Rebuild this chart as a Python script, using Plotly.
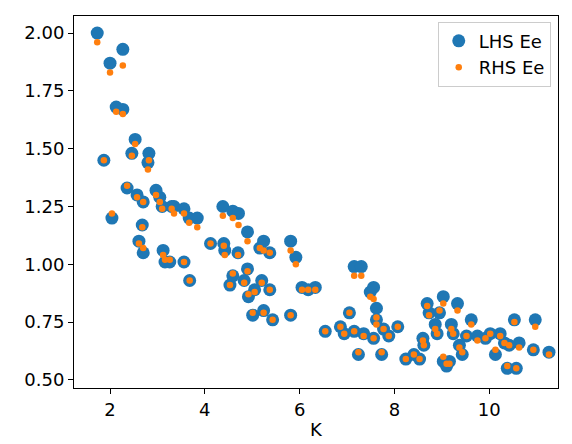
import plotly.graph_objects as go

K = [1.73,2.0,2.27,2.13,2.27,1.87,2.04,2.36,2.46,2.53,2.57,2.7,2.82,2.8,2.68,2.61,2.7,2.97,3.05,3.1,3.3,3.35,3.56,3.67,3.84,3.12,3.16,3.26,3.56,3.68,
     4.12,4.38,4.4,4.42,4.59,4.71,4.53,4.59,4.7,4.83,4.9,4.9,4.92,5.05,5.01,5.16,5.24,5.2,5.24,5.37,5.37,5.43,5.81,5.92,5.81,6.05,6.18,6.33,6.54,6.86,
     6.94,7.05,7.15,7.3,7.15,7.24,7.35,7.49,7.56,7.62,7.62,7.56,7.73,7.77,7.88,8.07,8.24,8.41,8.53,8.6,8.62,8.69,8.73,8.86,8.9,8.95,9.03,9.03,9.1,9.16,
     9.2,9.24,9.33,9.37,9.43,9.52,9.62,9.75,9.92,10.02,10.13,10.23,10.32,10.38,10.42,10.53,10.57,10.63,10.93,10.97,11.26]
LHS = [2.00,1.87,1.93,1.68,1.67,1.45,1.20,1.33,1.48,1.54,1.30,1.27,1.48,1.44,1.17,1.10,1.05,1.32,1.29,1.25,1.25,1.25,1.24,1.20,1.20,1.06,1.01,1.01,1.01,0.93,
       1.09,1.25,1.09,1.06,1.23,1.22,0.91,0.95,1.05,0.93,0.98,1.14,0.86,0.89,0.78,1.07,1.10,0.93,0.80,1.05,0.89,0.76,1.10,1.03,0.78,0.90,0.89,0.90,0.71,0.73,
       0.70,0.79,0.99,0.99,0.71,0.61,0.70,0.88,0.90,0.81,0.76,0.68,0.61,0.72,0.69,0.73,0.59,0.61,0.59,0.68,0.65,0.83,0.79,0.74,0.70,0.79,0.86,0.58,0.56,0.58,
       0.74,0.70,0.83,0.65,0.61,0.69,0.76,0.69,0.68,0.70,0.61,0.70,0.66,0.55,0.65,0.76,0.55,0.66,0.63,0.76,0.62]
RHS = [1.96,1.83,1.86,1.66,1.65,1.45,1.22,1.34,1.47,1.52,1.29,1.27,1.45,1.41,1.16,1.09,1.07,1.30,1.27,1.24,1.24,1.22,1.22,1.18,1.16,1.04,1.02,1.02,1.01,0.93,
       1.09,1.21,1.08,1.04,1.20,1.17,0.91,0.96,1.04,0.92,0.97,1.10,0.87,0.88,0.79,1.07,1.06,0.92,0.79,1.05,0.89,0.76,1.06,1.00,0.78,0.89,0.89,0.89,0.71,0.73,
       0.70,0.79,0.95,0.95,0.71,0.62,0.69,0.86,0.85,0.77,0.74,0.68,0.62,0.72,0.69,0.73,0.59,0.61,0.59,0.67,0.65,0.82,0.78,0.72,0.70,0.80,0.83,0.60,0.57,0.57,
       0.72,0.70,0.80,0.64,0.62,0.69,0.74,0.67,0.68,0.70,0.63,0.69,0.66,0.56,0.65,0.75,0.55,0.64,0.63,0.73,0.61]

fig = go.Figure()
fig.add_trace(go.Scatter(x=K, y=LHS, mode="markers", name="LHS Ee",
                         marker=dict(color="#1f77b4", size=13, line=dict(width=0))))
fig.add_trace(go.Scatter(x=K, y=RHS, mode="markers", name="RHS Ee",
                         marker=dict(color="#ff7f0e", size=6.5, line=dict(width=0))))
ax = dict(showline=True, linecolor="black", linewidth=1, mirror=True, ticks="outside",
          ticklen=5, tickcolor="black", showgrid=False, zeroline=False,
          tickfont=dict(size=18, color="black"))
fig.update_layout(
    width=572, height=444, plot_bgcolor="white", paper_bgcolor="white",
    margin=dict(l=66, r=22, t=8, b=64),
    font=dict(family="DejaVu Sans", color="black"),
    xaxis=dict(ax, range=[1.24, 11.45], tickvals=[2, 4, 6, 8, 10],
               title=dict(text="K", font=dict(size=18), standoff=4)),
    yaxis=dict(ax, range=[0.465, 2.074], tickvals=[0.5, 0.75, 1.0, 1.25, 1.5, 1.75, 2.0],
               ticktext=["0.50", "0.75", "1.00", "1.25", "1.50", "1.75", "2.00"]),
    legend=dict(x=0.985, y=0.985, xanchor="right", yanchor="top", bordercolor="#cccccc",
                borderwidth=1, bgcolor="rgba(255,255,255,0.8)", font=dict(size=18),
                tracegroupgap=4),
)
fig.write_html("out.html")
